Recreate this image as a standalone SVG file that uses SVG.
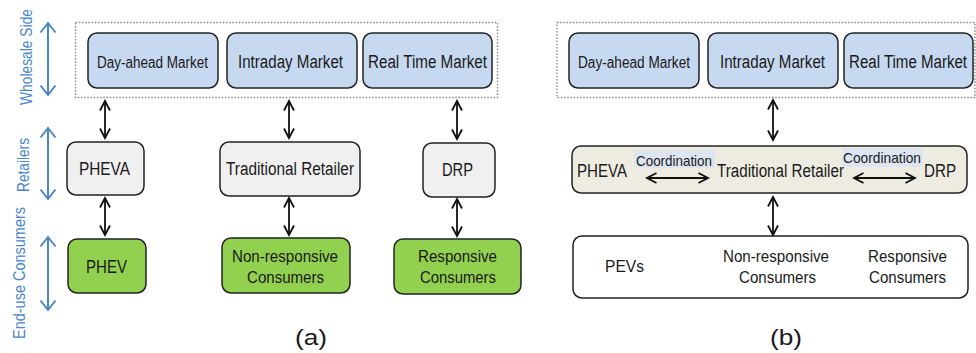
<svg xmlns="http://www.w3.org/2000/svg" width="976" height="353" viewBox="0 0 976 353">
  <style>
    text { font-family: "Liberation Sans", Arial, sans-serif; fill: #1a1a1a; }
    .box { stroke: #222; stroke-width: 1.5; }
    .market { fill: #c6d9f0; }
    .retail { fill: #f0f0f0; }
    .green { fill: #92d050; }
    .beige { fill: #eeece1; }
    .white { fill: #ffffff; }
    .group { fill: none; stroke: #8c8c8c; stroke-width: 1.4; stroke-dasharray: 1.6 1.6; }
    .side { fill: #4a86c8; font-size: 17px; }
    .link { fill: none; stroke: #111; stroke-width: 1.8; marker-start: url(#head); marker-end: url(#head); }
    .axis { fill: none; stroke: #4a86c8; stroke-width: 2; marker-start: url(#bhead); marker-end: url(#bhead); }
    .tag { fill: #dce5f1; }
  </style>
  <defs>
    <marker id="head" viewBox="0 0 10 10" refX="9.5" refY="5" markerWidth="10" markerHeight="10" markerUnits="userSpaceOnUse" orient="auto-start-reverse" overflow="visible">
      <path d="M0,0 L9.5,5 L0,10" fill="none" stroke="#111" stroke-width="1.8"/>
    </marker>
    <marker id="bhead" viewBox="0 0 10 15" refX="9.5" refY="7.5" markerWidth="10" markerHeight="15" markerUnits="userSpaceOnUse" orient="auto-start-reverse" overflow="visible">
      <path d="M0,0 L9.5,7.5 L0,15" fill="none" stroke="#4a86c8" stroke-width="2"/>
    </marker>
  </defs>

  <!-- side axis labels -->
  <g id="axis-labels">
    <path class="axis" d="M48,23 V95"/>
    <path class="axis" d="M48,128 V199"/>
    <path class="axis" d="M48,237 V310"/>
    <text class="side" transform="translate(32,57) rotate(-90)" text-anchor="middle" textLength="96" lengthAdjust="spacingAndGlyphs">Wholesale Side</text>
    <text class="side" transform="translate(29,165) rotate(-90)" text-anchor="middle" textLength="54" lengthAdjust="spacingAndGlyphs">Retailers</text>
    <text class="side" transform="translate(25,273) rotate(-90)" text-anchor="middle" textLength="132" lengthAdjust="spacingAndGlyphs">End-use Consumers</text>
  </g>

  <!-- ===== panel (a) ===== -->
  <rect class="group" x="75.5" y="22.5" width="422" height="75"/>
  <g id="a-dayahead">
    <rect class="box market" x="88" y="33" width="130" height="55" rx="9"/>
    <text x="152.5" y="68" font-size="16" text-anchor="middle" textLength="111" lengthAdjust="spacingAndGlyphs">Day-ahead Market</text>
  </g>
  <g id="a-intraday">
    <rect class="box market" x="227" y="33" width="130" height="55" rx="9"/>
    <text x="290.5" y="68" font-size="18" text-anchor="middle" textLength="105" lengthAdjust="spacingAndGlyphs">Intraday Market</text>
  </g>
  <g id="a-realtime">
    <rect class="box market" x="363" y="33" width="129" height="55" rx="9"/>
    <text x="427.5" y="68" font-size="18" text-anchor="middle" textLength="119" lengthAdjust="spacingAndGlyphs">Real Time Market</text>
  </g>
  <g id="a-pheva">
    <rect class="box retail" x="67" y="142" width="77" height="53" rx="9"/>
    <text x="104.5" y="175" font-size="18" text-anchor="middle" textLength="51" lengthAdjust="spacingAndGlyphs">PHEVA</text>
  </g>
  <g id="a-retailer">
    <rect class="box retail" x="220" y="142" width="140" height="54" rx="9"/>
    <text x="290" y="175" font-size="18" text-anchor="middle" textLength="128" lengthAdjust="spacingAndGlyphs">Traditional Retailer</text>
  </g>
  <g id="a-drp">
    <rect class="box retail" x="423" y="143" width="72" height="54" rx="9"/>
    <text x="457.5" y="176" font-size="18" text-anchor="middle" textLength="31" lengthAdjust="spacingAndGlyphs">DRP</text>
  </g>
  <g id="a-phev">
    <rect class="box green" x="68" y="239" width="78" height="54" rx="9"/>
    <text x="106.5" y="273" font-size="19" text-anchor="middle" textLength="41" lengthAdjust="spacingAndGlyphs">PHEV</text>
  </g>
  <g id="a-nonresp">
    <rect class="box green" x="222" y="238" width="128" height="55" rx="9"/>
    <text x="285" y="262" font-size="16" text-anchor="middle" textLength="106" lengthAdjust="spacingAndGlyphs">Non-responsive</text>
    <text x="285.5" y="283" font-size="16" text-anchor="middle" textLength="77" lengthAdjust="spacingAndGlyphs">Consumers</text>
  </g>
  <g id="a-resp">
    <rect class="box green" x="394" y="239" width="127" height="55" rx="9"/>
    <text x="457.5" y="262" font-size="16" text-anchor="middle" textLength="79" lengthAdjust="spacingAndGlyphs">Responsive</text>
    <text x="458" y="283" font-size="16" text-anchor="middle" textLength="76" lengthAdjust="spacingAndGlyphs">Consumers</text>
  </g>
  <text x="311" y="345" font-size="22" text-anchor="middle" textLength="32" lengthAdjust="spacingAndGlyphs">(a)</text>

  <!-- ===== panel (b) ===== -->
  <rect class="group" x="557" y="22.5" width="418" height="75"/>
  <g id="b-dayahead">
    <rect class="box market" x="569" y="33" width="130" height="55" rx="9"/>
    <text x="634" y="68" font-size="16" text-anchor="middle" textLength="112" lengthAdjust="spacingAndGlyphs">Day-ahead Market</text>
  </g>
  <g id="b-intraday">
    <rect class="box market" x="708" y="33" width="130" height="55" rx="9"/>
    <text x="772.5" y="68" font-size="18" text-anchor="middle" textLength="105" lengthAdjust="spacingAndGlyphs">Intraday Market</text>
  </g>
  <g id="b-realtime">
    <rect class="box market" x="844" y="33" width="129" height="55" rx="9"/>
    <text x="908" y="68" font-size="18" text-anchor="middle" textLength="118" lengthAdjust="spacingAndGlyphs">Real Time Market</text>
  </g>
  <g id="b-retailers">
    <rect class="box beige" x="572" y="146" width="395" height="47" rx="9"/>
    <text x="577" y="177" font-size="18" textLength="50" lengthAdjust="spacingAndGlyphs">PHEVA</text>
    <rect class="tag" x="634" y="150" width="81" height="18"/>
    <text x="674" y="166" font-size="15" text-anchor="middle" textLength="76" lengthAdjust="spacingAndGlyphs">Coordination</text>
    <text x="717" y="177" font-size="18" textLength="127" lengthAdjust="spacingAndGlyphs">Traditional Retailer</text>
    <rect class="tag" x="842" y="148" width="81" height="19"/>
    <text x="882" y="163" font-size="15" text-anchor="middle" textLength="78" lengthAdjust="spacingAndGlyphs">Coordination</text>
    <text x="924" y="177" font-size="18" textLength="32" lengthAdjust="spacingAndGlyphs">DRP</text>
  </g>
  <g id="b-consumers">
    <rect class="box white" x="573" y="236" width="395" height="62" rx="9"/>
    <text x="624.5" y="272" font-size="16" text-anchor="middle" textLength="39" lengthAdjust="spacingAndGlyphs">PEVs</text>
    <text x="776" y="262" font-size="16" text-anchor="middle" textLength="106" lengthAdjust="spacingAndGlyphs">Non-responsive</text>
    <text x="777.5" y="283" font-size="16" text-anchor="middle" textLength="77" lengthAdjust="spacingAndGlyphs">Consumers</text>
    <text x="907.5" y="262" font-size="16" text-anchor="middle" textLength="79" lengthAdjust="spacingAndGlyphs">Responsive</text>
    <text x="907.5" y="283" font-size="16" text-anchor="middle" textLength="77" lengthAdjust="spacingAndGlyphs">Consumers</text>
  </g>
  <text x="786" y="345" font-size="22" text-anchor="middle" textLength="32" lengthAdjust="spacingAndGlyphs">(b)</text>

  <!-- connectors -->
  <g id="connectors">
    <path class="link" d="M105,101 V138"/>
    <path class="link" d="M105,198 V235"/>
    <path class="link" d="M289,101 V138"/>
    <path class="link" d="M289,198 V235"/>
    <path class="link" d="M457,101 V139"/>
    <path class="link" d="M457,199 V236"/>
    <path class="link" d="M773,100 V140"/>
    <path class="link" d="M773,197 V235"/>
    <path class="link" d="M647,178 H708"/>
    <path class="link" d="M854,178 H915"/>
  </g>
</svg>
